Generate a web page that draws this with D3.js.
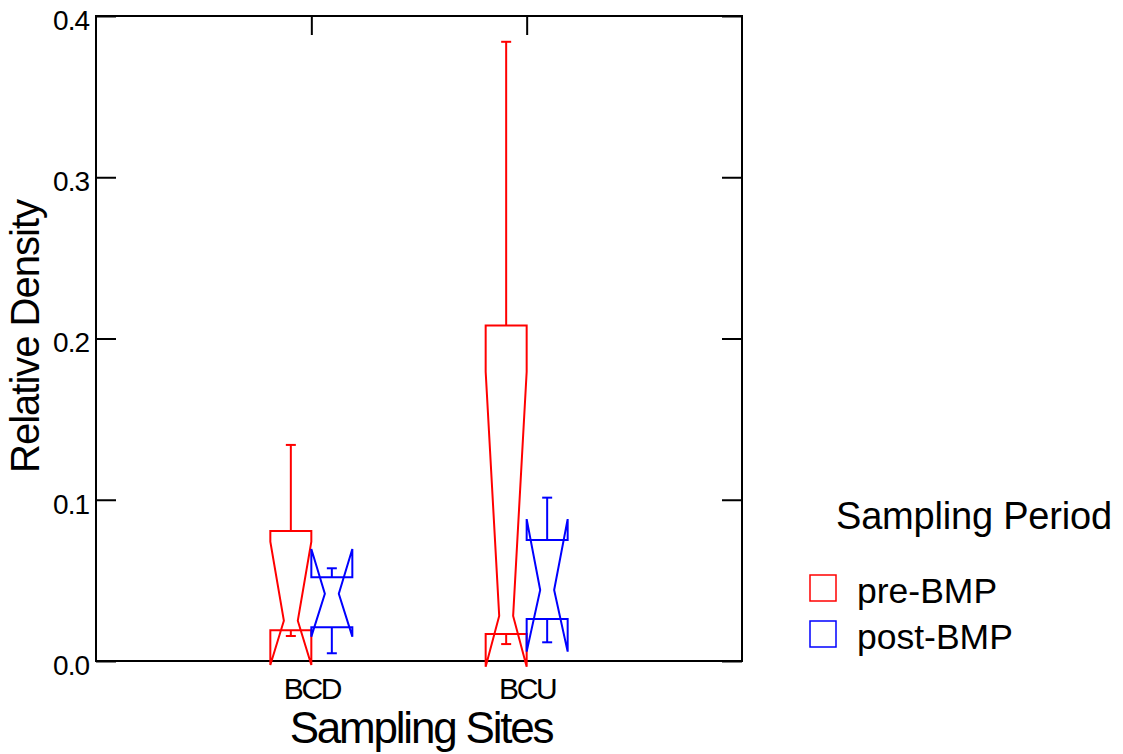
<!DOCTYPE html>
<html>
<head>
<meta charset="utf-8">
<script src="https://cdn.jsdelivr.net/npm/d3@7"></script>
<style>
  html, body { margin: 0; padding: 0; background: #fff; }
  svg { display: block; font-family: "Liberation Sans", Arial, sans-serif; }
</style>
</head>
<body>
<svg id="chart" width="1123" height="754"></svg>
<script>
// ---- data ----
const sites = ["BCD", "BCU"];
const periods = ["pre-BMP", "post-BMP"];
const periodColors = ["#ff0000", "#0000ff"];
// [site][period]
const whiskerLow  = [[0.0155, 0.0048], [0.0105, 0.0116]];
const q1          = [[0.0190, 0.0209], [0.0167, 0.0260]];
const median      = [[0.0250, 0.0417], [0.0279, 0.0440]];
const q3          = [[0.0806, 0.0519], [0.2080, 0.0750]];
const whiskerHigh = [[0.1340, 0.0575], [0.3840, 0.1013]];
const notchLow    = [[-0.0025, 0.0151], [-0.0035, 0.0058]];
const notchHigh   = [[0.0740, 0.0695], [0.1794, 0.0880]];
const yTicks = [0.0, 0.1, 0.2, 0.3, 0.4];

// ---- layout ----
const svg = d3.select("#chart");
const L = 96, R = 742, T = 16, B = 661;

const x = d3.scalePoint().domain(sites).range([L, R]).padding(1);
const xp = d3.scaleBand().domain(periods).range([-41, 41]).paddingInner(0);
const y = d3.scaleLinear().domain([0, 0.4]).range([B, T]);
const color = d3.scaleOrdinal().domain(periods).range(periodColors);

// axes
const gL = svg.append("g").attr("transform", `translate(${L},0)`)
  .call(d3.axisLeft(y).tickValues(yTicks).tickSize(-20).tickPadding(7).tickFormat(d3.format(".1f")));
gL.selectAll("text").attr("font-size", 28).attr("letter-spacing", "-1px").attr("dy", "0.48em").attr("fill", "#000");

const gR = svg.append("g").attr("transform", `translate(${R},0)`)
  .call(d3.axisRight(y).tickValues(yTicks).tickSize(-20).tickFormat(""));

const gT = svg.append("g").attr("transform", `translate(0,${T})`)
  .call(d3.axisTop(x).tickSize(-19).tickFormat(""));

const gB = svg.append("g").attr("transform", `translate(0,${B})`)
  .call(d3.axisBottom(x).tickSize(0).tickPadding(17));
gB.selectAll("text").attr("font-size", 30).attr("letter-spacing", "-2.4px").attr("fill", "#000");

[gL, gR, gT, gB].forEach(g => {
  g.select(".domain").remove();
  g.selectAll("line").attr("stroke", "#000").attr("stroke-width", 2);
});

// frame
svg.append("rect").attr("x", L).attr("y", T).attr("width", R - L).attr("height", B - T)
  .attr("fill", "none").attr("stroke", "#000").attr("stroke-width", 2);

// boxes
const boxes = [];
sites.forEach((s, i) => periods.forEach((p, j) => boxes.push({
  site: s, period: p,
  wl: whiskerLow[i][j], q1: q1[i][j], med: median[i][j], q3: q3[i][j],
  wh: whiskerHigh[i][j], nl: notchLow[i][j], nh: notchHigh[i][j]
})));

const g = svg.append("g");
boxes.forEach(d => {
  const x0 = x(d.site) + xp(d.period);
  const x1 = x0 + xp.bandwidth();
  const cx = (x0 + x1) / 2;
  const ind = xp.bandwidth() * 0.33;
  const c = color(d.period);
  const pts = [
    [x0, y(d.q3)], [x0, y(d.nh)], [x0 + ind, y(d.med)], [x0, y(d.nl)], [x0, y(d.q1)],
    [x1, y(d.q1)], [x1, y(d.nl)], [x1 - ind, y(d.med)], [x1, y(d.nh)], [x1, y(d.q3)]
  ];
  g.append("path").attr("d", d3.line()(pts) + "Z")
    .attr("fill", "none").attr("stroke", c).attr("stroke-width", 2).attr("stroke-linejoin", "miter");
  // whiskers
  g.append("line").attr("x1", cx).attr("x2", cx).attr("y1", y(d.q3)).attr("y2", y(d.wh))
    .attr("stroke", c).attr("stroke-width", 2);
  g.append("line").attr("x1", cx).attr("x2", cx).attr("y1", y(d.q1)).attr("y2", y(d.wl))
    .attr("stroke", c).attr("stroke-width", 2);
  [d.wh, d.wl].forEach(v => g.append("line").attr("x1", cx - 5).attr("x2", cx + 5)
    .attr("y1", y(v)).attr("y2", y(v)).attr("stroke", c).attr("stroke-width", 2));
});

// axis titles
svg.append("text").attr("x", (L + R) / 2 + 2).attr("y", 743).attr("text-anchor", "middle")
  .attr("font-size", 44).attr("letter-spacing", "-2.2px").text("Sampling Sites");
svg.append("text").attr("transform", `translate(39,${(T + B) / 2 - 2}) rotate(-90)`)
  .attr("text-anchor", "middle").attr("font-size", 40).attr("letter-spacing", "-1px")
  .text("Relative Density");

// legend
const lg = svg.append("g");
lg.append("text").attr("x", 836).attr("y", 529).attr("font-size", 38).attr("letter-spacing", "-0.2px")
  .text("Sampling Period");
periods.forEach((p, i) => {
  const yy = 575 + i * 46;
  lg.append("rect").attr("x", 810).attr("y", yy).attr("width", 26).attr("height", 26)
    .attr("fill", "none").attr("stroke", color(p)).attr("stroke-width", 1.5);
  lg.append("text").attr("x", 857).attr("y", yy + 28).attr("font-size", 35.5)
    .text(p);
});
</script>
</body>
</html>
